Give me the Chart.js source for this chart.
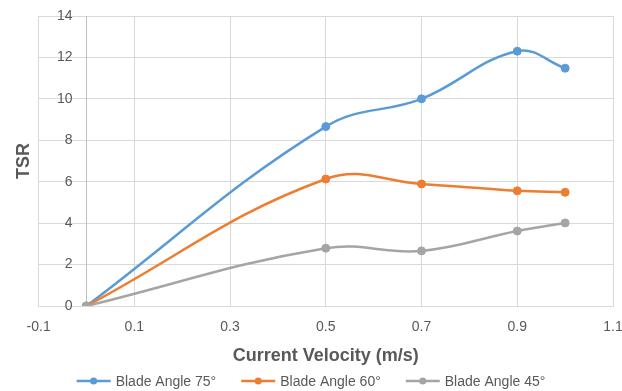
<!DOCTYPE html>
<html>
<head>
<meta charset="utf-8">
<script src="https://cdn.jsdelivr.net/npm/chart.js@4"></script>
<style>
  html, body { margin: 0; padding: 0; background: #fff; }
  #wrap { width: 622px; height: 391px; }
</style>
</head>
<body>
<div id="wrap"><canvas id="tsrChart" width="622" height="391"></canvas></div>
<script>
// data
const velocity = [0, 0.5, 0.7, 0.9, 1.0];
const tsr75 = [0, 8.66, 10.0, 12.3, 11.48];
const tsr60 = [0, 6.13, 5.89, 5.56, 5.49];
const tsr45 = [0, 2.79, 2.66, 3.62, 4.01];
const seriesNames = ["Blade Angle 75°", "Blade Angle 60°", "Blade Angle 45°"];
const xTicks = [-0.1, 0.1, 0.3, 0.5, 0.7, 0.9, 1.1];
const yTicks = [0, 2, 4, 6, 8, 10, 12, 14];

const colors = ["#5B9BD5", "#ED7D31", "#A5A5A5"];
const textColor = "#595959";
const font = "'Liberation Sans', Arial, sans-serif";

function toPoints(ys) {
  return velocity.map((x, i) => ({ x: x, y: ys[i] }));
}

function makeDataset(label, ys, color, order) {
  return {
    label: label,
    data: toPoints(ys),
    borderColor: color,
    backgroundColor: color,
    pointBackgroundColor: color,
    pointBorderColor: color,
    borderWidth: 2.5,
    pointRadius: 4,
    pointBorderWidth: 1,
    tension: 0.4,
    order: order
  };
}

// y labels sit just left of the x = 0 axis, plus the darker axis line there
const axisPlugin = {
  id: "axisPlugin",
  beforeDatasetsDraw(chart) {
    const { ctx, chartArea, scales } = chart;
    const x0 = Math.round(scales.x.getPixelForValue(0)) + 0.5;
    ctx.save();
    ctx.strokeStyle = "#bfbfbf";
    ctx.lineWidth = 1;
    ctx.beginPath();
    ctx.moveTo(x0, chartArea.top);
    ctx.lineTo(x0, chartArea.bottom);
    ctx.stroke();
    ctx.fillStyle = textColor;
    ctx.font = "14px " + font;
    ctx.textAlign = "right";
    ctx.textBaseline = "middle";
    yTicks.forEach(v => {
      ctx.fillText(String(v), x0 - 14, scales.y.getPixelForValue(v));
    });
    ctx.restore();
  }
};

// Excel style legend: short line with a dot, then the label
const legendPlugin = {
  id: "legendPlugin",
  afterDraw(chart) {
    const ctx = chart.ctx;
    const y = 381;
    const lineW = 34, gap = 5, spacing = 25;
    ctx.save();
    ctx.font = "14px " + font;
    ctx.textBaseline = "middle";
    ctx.textAlign = "left";
    const widths = seriesNames.map(n => lineW + gap + ctx.measureText(n).width);
    const total = widths.reduce((a, b) => a + b, 0) + spacing * (seriesNames.length - 1);
    let x = 311 - total / 2;
    seriesNames.forEach((name, i) => {
      ctx.strokeStyle = colors[i];
      ctx.fillStyle = colors[i];
      ctx.lineWidth = 2.5;
      ctx.beginPath();
      ctx.moveTo(x, y);
      ctx.lineTo(x + lineW, y);
      ctx.stroke();
      ctx.beginPath();
      ctx.arc(x + lineW / 2, y, 3.5, 0, Math.PI * 2);
      ctx.fill();
      ctx.fillStyle = textColor;
      ctx.fillText(name, x + lineW + gap, y + 1);
      x += widths[i] + spacing;
    });
    ctx.restore();
  }
};

const ctx = document.getElementById("tsrChart").getContext("2d");
new Chart(ctx, {
  type: "line",
  data: {
    datasets: [
      makeDataset(seriesNames[0], tsr75, colors[0], 2),
      makeDataset(seriesNames[1], tsr60, colors[1], 1),
      makeDataset(seriesNames[2], tsr45, colors[2], 0)
    ]
  },
  options: {
    responsive: false,
    animation: false,
    layout: { padding: { left: 9, right: 9, top: 16, bottom: 24 } },
    plugins: {
      legend: { display: false },
      tooltip: { enabled: false }
    },
    scales: {
      x: {
        type: "linear",
        min: -0.1,
        max: 1.1,
        afterBuildTicks: scale => {
          scale.ticks = xTicks.map(v => ({ value: v }));
        },
        afterFit: scale => {
          // keep the plot area as wide and tall as in the reference
          scale.height = 61;
          scale.paddingLeft = 0;
          scale.paddingRight = 0;
        },
        grid: { color: "#d9d9d9", drawTicks: false },
        border: { color: "#d9d9d9" },
        ticks: {
          color: textColor,
          font: { family: font, size: 14 },
          padding: 13,
          maxRotation: 0,
          callback: v => v.toFixed(1)
        },
        title: {
          display: true,
          text: "Current Velocity (m/s)",
          color: textColor,
          font: { family: font, size: 18, weight: "bold" },
          padding: { top: 10, bottom: 0 }
        }
      },
      y: {
        min: 0,
        max: 14,
        ticks: { display: false, stepSize: 2 },
        grid: { color: "#d9d9d9", drawTicks: false },
        border: { display: false },
        title: {
          display: true,
          text: "TSR",
          color: textColor,
          font: { family: font, size: 18, weight: "bold" },
          padding: { top: 4, bottom: 4 }
        }
      }
    }
  },
  plugins: [axisPlugin, legendPlugin]
});
</script>
</body>
</html>
